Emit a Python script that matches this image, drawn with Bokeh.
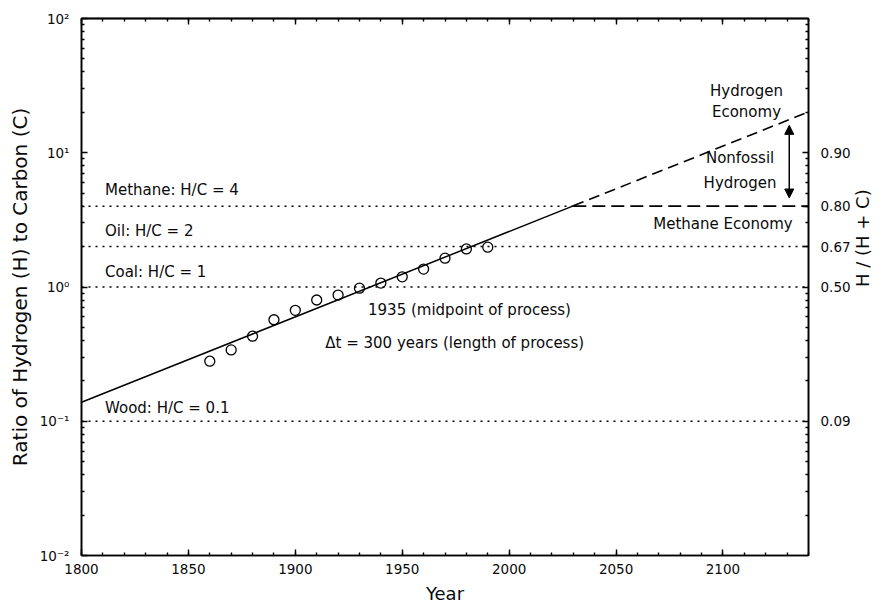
import math
from bokeh.plotting import figure
from bokeh.models import (LinearAxis, LogAxis, FixedTicker, Range1d, Arrow,
                          NormalHead, ColumnDataSource)
from bokeh.embed import file_html
from bokeh.resources import INLINE
from bokeh.core.properties import value

# ---------------- data ----------------
years = [1860, 1870, 1880, 1890, 1900, 1910, 1920, 1930, 1940, 1950, 1960, 1970, 1980, 1990]
hc_ratio = [0.28, 0.34, 0.43, 0.57, 0.67, 0.80, 0.87, 0.98, 1.07, 1.19, 1.36, 1.64, 1.92, 1.98]

# logistic substitution parameters (from the chart annotations)
midpoint_year = 1935
delta_t = 300
fit_solid_years = [1800, 2030]
fit_dashed_years = [2030, 2140]

methane_hc = 4
oil_hc = 2
coal_hc = 1
wood_hc = 0.1
methane_line_years = [1800, 2030]
methane_econ_years = [2030, 2140]
full_years = [1800, 2140]

x_major = [1800, 1850, 1900, 1950, 2000, 2050, 2100]
x_minor = list(range(1800, 2141, 10))
y_major = [0.01, 0.1, 1.0, 10.0, 100.0]
y_major_labels = ["10\u207b\u00b2", "10\u207b\u00b9", "10\u2070", "10\u00b9", "10\u00b2"]
y_minor = [m * 10.0 ** k for k in range(-2, 2) for m in range(2, 10)]
right_ticks = [0.1, 1.0, 2.0, 4.0, 10.0]
right_labels = ["0.09", "0.50", "0.67", "0.80", "0.90"]

left_notes = ["Methane: H/C = 4", "Oil: H/C = 2", "Coal: H/C = 1", "Wood: H/C = 0.1",
              "1935 (midpoint of process)", "\u0394t = 300 years (length of process)"]
left_notes_x = [1811, 1811, 1811, 1811, 1934, 1914]
left_notes_y = [5.3, 2.62, 1.29, 0.125, 0.67, 0.38]

center_notes = ["Hydrogen", "Economy", "Nonfossil", "Hydrogen", "Methane Economy"]
center_notes_x = [2111, 2111, 2108, 2108, 2100]
center_notes_y = [29.0, 20.2, 9.2, 5.97, 2.95]

arrow_year = 2131
arrow_low = 4.6
arrow_high = 16.0

# ---------------- helpers ----------------
slope = math.log10(81) / delta_t


def fit(yrs):
    return [10 ** ((y - midpoint_year) * slope) for y in yrs]


FONT = "DejaVu Sans"
INK = "#0a0a0a"

p = figure(width=891, height=606, x_range=Range1d(1800, 2140), y_range=Range1d(0.01, 100),
           y_axis_type="log", output_backend="svg", toolbar_location=None,
           min_border_left=81, min_border_right=83, min_border_top=18, min_border_bottom=51)
p.grid.visible = False
p.outline_line_color = "black"
p.outline_line_width = 1.5
p.background_fill_color = "white"
p.border_fill_color = "white"


def style_axis(ax):
    ax.axis_line_color = "black"
    ax.axis_line_width = 1.6
    ax.major_tick_in = 6
    ax.major_tick_out = 0
    ax.minor_tick_in = 3
    ax.minor_tick_out = 0
    ax.major_tick_line_color = "black"
    ax.minor_tick_line_color = "black"
    ax.major_tick_line_width = 1.4
    ax.minor_tick_line_width = 1.4
    ax.major_label_text_font = FONT
    ax.major_label_text_font_size = "13.5px"
    ax.major_label_text_color = INK
    ax.axis_label_text_font = FONT
    ax.axis_label_text_font_size = "18px"
    ax.axis_label_text_font_style = "normal"
    ax.axis_label_text_color = INK


xa = p.xaxis[0]
xa.ticker = FixedTicker(ticks=x_major, minor_ticks=x_minor)
xa.axis_label = "Year"
style_axis(xa)
xa.major_label_standoff = 8
xa.axis_label_standoff = 6

ya = p.yaxis[0]
ya.ticker = FixedTicker(ticks=y_major, minor_ticks=y_minor)
ya.major_label_overrides = dict(zip(y_major, y_major_labels))
ya.axis_label = "Ratio of Hydrogen (H) to Carbon (C)"
style_axis(ya)
ya.axis_label_text_font_size = "20px"
ya.major_label_standoff = 12
ya.axis_label_standoff = 5

# top border ticks (no labels): minor ticks, then major ticks drawn as longer "minor" ticks
top = LinearAxis(ticker=FixedTicker(ticks=[], minor_ticks=x_minor))
style_axis(top)
top.minor_tick_in = 3
p.add_layout(top, "above")
top2 = LinearAxis(ticker=FixedTicker(ticks=[], minor_ticks=x_major))
style_axis(top2)
top2.minor_tick_in = 6
p.add_layout(top2, "above")

right = LogAxis(ticker=FixedTicker(ticks=right_ticks, minor_ticks=y_minor))
style_axis(right)
right.major_label_overrides = dict(zip(right_ticks, right_labels))
right.major_label_standoff = 12
right.axis_label = "H / (H + C)"
right.axis_label_standoff = 9
right.axis_label_orientation = math.pi / 2
p.add_layout(right, "right")

# reference lines
dot = "2 5"
p.line(methane_line_years, [methane_hc] * 2, line_color="black", line_width=1.5, line_dash=dot)
for v in (oil_hc, coal_hc, wood_hc):
    p.line(full_years, [v] * 2, line_color="black", line_width=1.5, line_dash=dot)

# methane economy plateau
p.line(methane_econ_years, [methane_hc] * 2, line_color="black", line_width=1.7, line_dash="13 6")

# fit line
p.line(fit_solid_years, fit(fit_solid_years), line_color="black", line_width=1.5)
p.line(fit_dashed_years, fit(fit_dashed_years), line_color="black", line_width=1.6, line_dash="11 6")

# data
p.scatter(years, hc_ratio, marker="circle", size=10, fill_color=None, line_color="black", line_width=1.3)

# annotations
src_l = ColumnDataSource(dict(x=left_notes_x, y=left_notes_y, t=left_notes))
p.text(x="x", y="y", text="t", source=src_l, text_font=value(FONT), text_font_size="15px",
       text_align="left", text_baseline="middle", text_color=INK)
src_c = ColumnDataSource(dict(x=center_notes_x, y=center_notes_y, t=center_notes))
p.text(x="x", y="y", text="t", source=src_c, text_font=value(FONT), text_font_size="15px",
       text_align="center", text_baseline="middle", text_color=INK)

p.add_layout(Arrow(x_start=arrow_year, y_start=arrow_low, x_end=arrow_year, y_end=arrow_high,
                   line_color="black", line_width=1.5,
                   start=NormalHead(size=9, fill_color="black", line_color="black"),
                   end=NormalHead(size=9, fill_color="black", line_color="black")))

open("out.html", "w").write(file_html(p, INLINE))
